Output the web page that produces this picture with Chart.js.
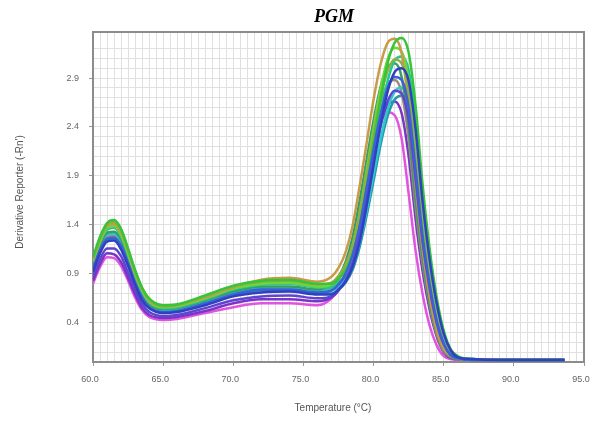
<!DOCTYPE html>
<html>
<head>
<meta charset="utf-8">
<script src="https://cdn.jsdelivr.net/npm/chart.js@4.4.1/dist/chart.umd.min.js"></script>
<style>
  html, body { margin: 0; padding: 0; background: #fff; }
  #wrap { width: 591px; height: 421px; position: relative; }
</style>
</head>
<body>
<div id="wrap"><canvas id="meltChart"></canvas></div>
<script>
const TITLE = "PGM";
const X_TITLE = "Temperature (°C)";
const Y_TITLE = "Derivative Reporter (-Rn')";
const X_TICKS = [60, 65, 70, 75, 80, 85, 90, 95];
const Y_TICKS = [0.4, 0.9, 1.4, 1.9, 2.4, 2.9];

// temperatures (°C) shared by every well
const TEMPS = [60, 60.5, 61, 61.5, 62, 62.5, 63, 63.5, 64, 65, 66, 68, 70, 72, 74, 76,
  77, 77.5, 78, 78.5, 79, 79.5, 80, 80.5, 81, 81.5, 82, 82.5, 83, 83.5, 84, 84.5, 85, 85.5, 86, 87, 89, 93.6];

// derivative reporter, one array per well
const wellBlue = [0.92,1.11,1.23,1.24,1.15,0.98,0.79,0.63,0.55,0.50,0.51,0.58,0.67,0.71,0.72,0.69,
  0.69,0.74,0.82,0.97,1.22,1.59,2.01,2.42,2.76,2.96,3.00,2.87,2.37,1.63,1.04,0.60,0.29,0.12,0.05,0.03,0.02,0.02];
const wellRoyal = [0.95,1.14,1.26,1.27,1.19,1.01,0.81,0.66,0.56,0.51,0.52,0.60,0.69,0.74,0.74,0.71,
  0.73,0.79,0.90,1.09,1.38,1.77,2.17,2.53,2.80,2.91,2.88,2.60,1.96,1.28,0.79,0.42,0.19,0.07,0.04,0.02,0.02,0.02];
const wellViolet = [0.87,1.05,1.16,1.16,1.08,0.91,0.73,0.59,0.51,0.47,0.48,0.55,0.63,0.67,0.68,0.65,
  0.67,0.73,0.83,1.01,1.30,1.67,2.06,2.41,2.66,2.77,2.74,2.47,1.86,1.22,0.75,0.40,0.18,0.07,0.04,0.02,0.02,0.02];
const wellGreen = [1.07,1.28,1.42,1.45,1.36,1.16,0.94,0.76,0.65,0.58,0.59,0.68,0.78,0.83,0.84,0.80,
  0.80,0.85,0.94,1.10,1.38,1.78,2.23,2.68,3.05,3.26,3.31,3.16,2.61,1.80,1.15,0.66,0.32,0.13,0.06,0.03,0.02,0.02];
const wellOlive = [1.06,1.26,1.40,1.43,1.34,1.14,0.93,0.75,0.64,0.57,0.58,0.67,0.77,0.82,0.83,0.79,
  0.81,0.88,0.99,1.18,1.50,1.90,2.32,2.70,2.97,3.09,3.05,2.76,2.08,1.36,0.84,0.45,0.20,0.08,0.04,0.02,0.02,0.02];
const wellOrange = [1.04,1.25,1.39,1.41,1.32,1.13,0.91,0.74,0.63,0.57,0.58,0.66,0.76,0.84,0.86,0.82,
  0.87,0.96,1.12,1.39,1.79,2.23,2.68,3.04,3.26,3.30,3.15,2.61,1.80,1.15,0.66,0.32,0.13,0.06,0.04,0.02,0.02,0.02];
const wellLime = [1.03,1.23,1.37,1.39,1.30,1.11,0.90,0.73,0.62,0.56,0.57,0.65,0.75,0.80,0.81,0.77,
  0.79,0.86,0.98,1.19,1.52,1.95,2.39,2.79,3.09,3.21,3.17,2.87,2.16,1.42,0.87,0.47,0.21,0.08,0.04,0.02,0.02,0.02];
const wellSea = [1.02,1.22,1.35,1.37,1.28,1.09,0.88,0.71,0.61,0.55,0.56,0.64,0.74,0.79,0.80,0.76,
  0.76,0.81,0.89,1.04,1.30,1.68,2.11,2.53,2.87,3.08,3.12,2.98,2.46,1.70,1.08,0.62,0.30,0.12,0.05,0.03,0.02,0.02];
const wellForest = [0.99,1.19,1.32,1.33,1.25,1.06,0.86,0.69,0.59,0.54,0.55,0.63,0.72,0.77,0.77,0.74,
  0.79,0.87,1.02,1.27,1.64,2.06,2.47,2.81,3.01,3.05,2.91,2.41,1.66,1.06,0.61,0.30,0.12,0.05,0.03,0.02,0.02,0.02];
const wellCyan = [0.98,1.17,1.30,1.31,1.23,1.04,0.84,0.68,0.58,0.53,0.54,0.62,0.71,0.76,0.76,0.73,
  0.73,0.77,0.84,0.98,1.21,1.54,1.91,2.28,2.58,2.76,2.80,2.67,2.21,1.52,0.97,0.56,0.27,0.11,0.05,0.03,0.02,0.02];
const wellTaupe = [0.96,1.16,1.28,1.29,1.21,1.03,0.83,0.67,0.57,0.52,0.53,0.61,0.70,0.75,0.75,0.72,
  0.76,0.84,0.98,1.22,1.56,1.95,2.34,2.65,2.84,2.88,2.75,2.28,1.57,1.00,0.58,0.28,0.11,0.05,0.03,0.02,0.02,0.02];
const wellTeal = [0.94,1.13,1.25,1.26,1.17,1.00,0.80,0.65,0.56,0.51,0.52,0.59,0.68,0.73,0.73,0.70,
  0.70,0.74,0.81,0.94,1.17,1.49,1.85,2.22,2.51,2.68,2.72,2.60,2.15,1.48,0.94,0.54,0.26,0.11,0.05,0.03,0.02,0.02];
const wellPurple = [0.83,1.00,1.11,1.10,1.02,0.86,0.69,0.55,0.48,0.45,0.46,0.52,0.60,0.64,0.64,0.62,
  0.66,0.73,0.87,1.09,1.42,1.78,2.15,2.45,2.62,2.66,2.54,2.10,1.45,0.92,0.53,0.26,0.10,0.04,0.03,0.02,0.02,0.02];
const wellMagenta = [0.80,0.97,1.07,1.06,0.98,0.83,0.66,0.53,0.46,0.43,0.44,0.50,0.56,0.60,0.60,0.58,
  0.65,0.75,0.92,1.18,1.53,1.89,2.21,2.45,2.55,2.52,2.28,1.72,1.13,0.69,0.37,0.17,0.06,0.03,0.02,0.02,0.02,0.02];

const WELLS = [wellBlue, wellRoyal, wellViolet, wellGreen, wellOlive, wellOrange, wellLime,
  wellSea, wellForest, wellCyan, wellTaupe, wellTeal, wellPurple, wellMagenta];
const COLORS = ["#3040c0", "#3a62d8", "#6044d0", "#36c43a", "#8fb040", "#c99a4a", "#6fd838",
  "#22c890", "#3a9a68", "#30c8cc", "#9a8a7a", "#2398aa", "#7a34c8", "#e055e0"];

const isTick = (list, v) => list.some(t => Math.abs(t - v) < 1e-6);

const frameAndText = {
    id: "frameAndText",
    beforeDatasetsDraw(chart) {
        const { ctx, chartArea: a } = chart;
        ctx.save();
        ctx.strokeStyle = "#8c8c8c";
        ctx.lineWidth = 2;
        ctx.strokeRect(a.left, a.top, a.right - a.left, a.bottom - a.top);
        ctx.restore();
    },
    afterDraw(chart) {
        const { ctx } = chart;
        ctx.save();
        ctx.textAlign = "center";
        ctx.textBaseline = "middle";
        ctx.fillStyle = "#000";
        ctx.font = 'bold italic 18px "Liberation Serif"';
        ctx.fillText(TITLE, 334, 17);
        ctx.fillStyle = "#555";
        ctx.font = '10px "Liberation Sans"';
        ctx.fillText(X_TITLE, 333, 408);
        ctx.translate(20, 192);
        ctx.rotate(-Math.PI / 2);
        ctx.fillText(Y_TITLE, 0, 0);
        ctx.restore();
    }
};

const ctx = document.getElementById("meltChart").getContext("2d");
const chart = new Chart(ctx, {
    type: "line",
    data: {
        datasets: WELLS.map((w, i) => ({
            data: TEMPS.map((t, j) => ({ x: t, y: w[j] })),
            borderColor: COLORS[i],
            borderWidth: 2.5,
            pointRadius: 0,
            cubicInterpolationMode: "monotone"
        }))
    },
    options: {
        responsive: true,
        maintainAspectRatio: false,
        animation: false,
        layout: { padding: { top: 32, right: 7, left: 0, bottom: 0 } },
        plugins: { legend: { display: false }, tooltip: { enabled: false } },
        scales: {
            x: {
                type: "linear",
                min: 60,
                max: 95,
                afterFit: s => { s.height = 59; s.paddingLeft = 0; s.paddingRight = 0; },
                border: { display: false },
                grid: {
                    color: "#e0e0e0",
                    tickLength: 4,
                    tickColor: c => (c.tick && isTick(X_TICKS, c.tick.value)) ? "#999" : "rgba(0,0,0,0)"
                },
                ticks: {
                    stepSize: 0.5,
                    autoSkip: false,
                    maxRotation: 0,
                    padding: 8,
                    labelOffset: -3,
                    color: "#666",
                    font: { family: "Liberation Sans", size: 9 },
                    callback: v => isTick(X_TICKS, v) ? v.toFixed(1) : ""
                }
            },
            y: {
                min: 0,
                max: 3.37,
                afterFit: s => { s.width = 93; s.paddingTop = 0; s.paddingBottom = 0; },
                border: { display: false },
                grid: {
                    color: "#e0e0e0",
                    tickLength: 4,
                    tickColor: c => (c.tick && isTick(Y_TICKS, c.tick.value)) ? "#999" : "rgba(0,0,0,0)"
                },
                ticks: {
                    stepSize: 0.1,
                    autoSkip: false,
                    padding: 10,
                    color: "#666",
                    font: { family: "Liberation Sans", size: 9 },
                    callback: v => isTick(Y_TICKS, v) ? v.toFixed(1) : ""
                }
            }
        }
    },
    plugins: [frameAndText]
});
</script>
</body>
</html>
